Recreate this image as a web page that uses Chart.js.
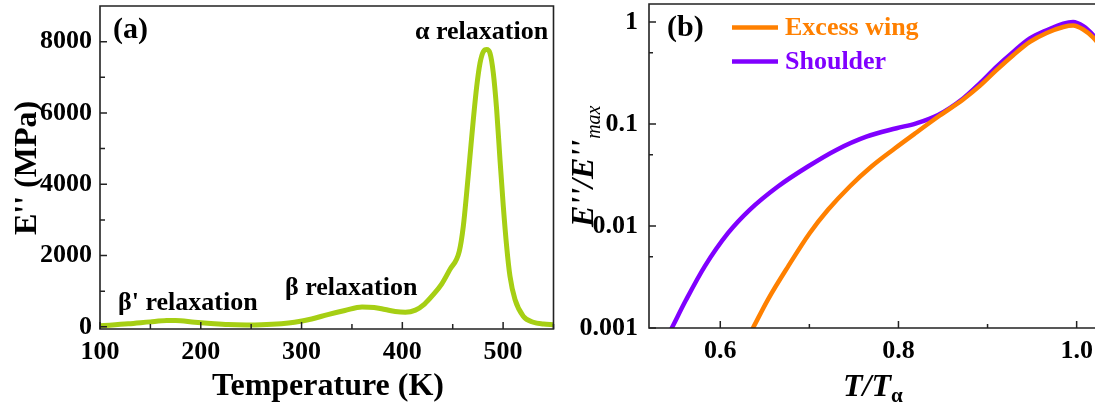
<!DOCTYPE html>
<html>
<head>
<meta charset="utf-8">
<title>E'' relaxation spectra</title>
<script src="https://cdn.jsdelivr.net/npm/chart.js@4.4.1/dist/chart.umd.min.js"></script>
<style>
  html, body { margin: 0; padding: 0; background: #fff; }
  #wrap { position: relative; width: 1095px; height: 405px; overflow: hidden; background: #fff; }
  canvas { position: absolute; top: 0; }
  #chartA { left: 0; }
  #chartB { left: 560px; }
</style>
</head>
<body>
<div id="wrap">
  <canvas id="chartA" width="560" height="405"></canvas>
  <canvas id="chartB" width="535" height="405"></canvas>
</div>
<script>
// ── (a) 損耗模量 E'' vs 溫度 ─────────────────────────────
const TEMP_A = [100, 128, 150, 166, 175, 194, 210, 227, 245, 260,
                280, 293, 310, 326, 343, 360, 372, 383, 393, 403,
                413, 422, 430, 439, 447, 456.5, 460.5, 463.8, 467.1, 470.4,
                473.8, 477.1, 480.4, 483.7, 487, 490.3, 493.6, 496.9, 500.2, 503.5,
                506.8, 511.8, 520, 530, 540, 550];
const LOSS_A = [30, 84, 140, 176, 180, 130, 95, 64, 55, 60,
                90, 130, 220, 345, 460, 560, 545, 485, 430, 410,
                470, 640, 880, 1200, 1600, 2120, 2820, 3750, 4780, 5800,
                6740, 7400, 7720, 7780, 7675, 7115, 6090, 4690, 3380, 2260,
                1420, 765, 300, 130, 80, 60];

const X_TICKS_A  = [100, 150, 200, 250, 300, 350, 400, 450, 500, 550];
const X_LABELS_A = ["100", "", "200", "", "300", "", "400", "", "500", ""];
const Y_TICKS_A  = [0, 1000, 2000, 3000, 4000, 5000, 6000, 7000, 8000];
const Y_LABELS_A = ["0", "", "2000", "", "4000", "", "6000", "", "8000"];

// ── (b) 歸一化 E''/E''max vs T/Tα ────────────────────────
const SERIES_B = ["Excess wing", "Shoulder"];

const WING_T = [0.628, 0.6367, 0.6535, 0.676, 0.7003, 0.7209, 0.7453, 0.7697, 0.7958, 0.818,
                0.8464, 0.8726, 0.8913, 0.91, 0.9288, 0.9475, 0.9663, 0.985, 0.996, 1.0074,
                1.0187, 1.026];
const WING_E = [0.00072, 0.001, 0.0019, 0.0040, 0.0085, 0.0144, 0.0244, 0.0383, 0.0575, 0.080,
                0.121, 0.174, 0.236, 0.337, 0.472, 0.637, 0.78, 0.893, 0.922, 0.843,
                0.703, 0.59];

const SHOULDER_T = [0.535, 0.5456, 0.5618, 0.5824, 0.6086, 0.633, 0.6647, 0.6984, 0.7303, 0.764,
                    0.7978, 0.82, 0.8445, 0.8726, 0.8913, 0.91, 0.9288, 0.9475, 0.9663, 0.985,
                    0.996, 1.0074, 1.0187, 1.026];
const SHOULDER_E = [0.00066, 0.001, 0.0019, 0.0040, 0.0085, 0.0144, 0.0244, 0.0383, 0.0557, 0.0751,
                    0.0908, 0.1016, 0.1227, 0.178, 0.25, 0.363, 0.509, 0.689, 0.83, 0.964,
                    1.0, 0.908, 0.74, 0.62];

const X_TICKS_B  = [0.6, 0.7, 0.8, 0.9, 1.0];
const X_LABELS_B = ["0.6", "", "0.8", "", "1.0"];
const Y_TICKS_B  = [0.001, 0.005, 0.01, 0.05, 0.1, 0.5, 1];
const Y_LABELS_B = ["0.001", "", "0.01", "", "0.1", "", "1"];

// ── 樣式 ─────────────────────────────────────────────────
const FONT     = '"Liberation Serif", "Times New Roman", serif';
const INK      = "#000";
const AXIS     = "#222";
const GREEN    = "#a6cf14";
const ORANGE   = "#ff8000";
const PURPLE   = "#8000ff";

const TICK_FONT = { family: FONT, size: 26, weight: "bold" };

// ── 共用工具 ─────────────────────────────────────────────

const toPoints = (xs, ys) => xs.map((x, i) => ({ x, y: ys[i] }));

const setTicks = values => scale => { scale.ticks = values.map(v => ({ value: v })); };

// 固定軸的寬/高，並取消標籤外溢造成的 padding
const fixBox = (size, horizontal) => scale => {
  if (horizontal) scale.height = size; else scale.width = size;
  scale.paddingLeft = scale.paddingRight = scale.paddingTop = scale.paddingBottom = 0;
};

function axisOpts({ type, min, max, ticks, labels, size, horizontal, pad }) {
  return {
    type, min, max,
    afterBuildTicks: setTicks(ticks),
    afterFit: fixBox(size, horizontal),
    grid:   { display: false, drawTicks: false },
    border: { display: false },
    ticks: {
      autoSkip: false, maxRotation: 0, minRotation: 0,
      padding: pad, color: INK, font: TICK_FONT,
      callback: (v, i) => labels[i],
    },
  };
}

function drawText(ctx, text, x, y, font, color, align = "left") {
  ctx.font = font;
  ctx.fillStyle = color;
  ctx.textAlign = align;
  ctx.textBaseline = "alphabetic";
  ctx.fillText(text, x, y);
}

// 內向刻度 + 外框
const frame = {
  id: "frame",
  afterDatasetsDraw(chart, args, opts) {
    const { ctx, chartArea: a, scales: { x, y } } = chart;
    ctx.save();
    ctx.strokeStyle = AXIS;
    ctx.lineWidth = 1.5;
    ctx.beginPath();
    x.ticks.forEach(t => {
      const px = x.getPixelForValue(t.value);
      ctx.moveTo(px, a.bottom);
      ctx.lineTo(px, a.bottom - (t.label ? opts.major : opts.minor));
    });
    y.ticks.forEach(t => {
      const py = y.getPixelForValue(t.value);
      ctx.moveTo(a.left, py);
      ctx.lineTo(a.left + (t.label ? opts.major : opts.minor), py);
    });
    ctx.stroke();

    ctx.lineWidth = 1.6;
    ctx.beginPath();
    if (opts.closed) {
      ctx.rect(a.left, a.top, a.right - a.left, a.bottom - a.top);
    } else {
      ctx.moveTo(a.right, a.top);
      ctx.lineTo(a.left, a.top);
      ctx.lineTo(a.left, a.bottom);
      ctx.lineTo(a.right, a.bottom);
    }
    ctx.stroke();
    ctx.restore();
  },
};

// ── (a) 文字 ─────────────────────────────────────────────
const labelsA = {
  id: "labelsA",
  afterDraw(chart) {
    const ctx = chart.ctx;
    ctx.save();
    drawText(ctx, "(a)", 113, 38, `bold 30px ${FONT}`, INK);
    drawText(ctx, "α relaxation", 415, 39, `bold 26px ${FONT}`, INK);
    drawText(ctx, "β relaxation", 285, 295, `bold 26px ${FONT}`, INK);
    drawText(ctx, "β' relaxation", 118, 310, `bold 26px ${FONT}`, INK);
    drawText(ctx, "Temperature (K)", 328, 395, `bold 32px ${FONT}`, INK, "center");
    ctx.translate(36, 168);
    ctx.rotate(-Math.PI / 2);
    drawText(ctx, "E'' (MPa)", 0, 0, `bold 32px ${FONT}`, INK, "center");
    ctx.restore();
  },
};

// ── (b) 文字與圖例 ───────────────────────────────────────
const labelsB = {
  id: "labelsB",
  afterDraw(chart) {
    const ctx = chart.ctx;
    const off = 560;
    ctx.save();
    drawText(ctx, "(b)", 667 - off, 36, `bold 30px ${FONT}`, INK);

    // 圖例
    chart.data.datasets.forEach((ds, i) => {
      const ly = 27.5 + i * 34;
      ctx.strokeStyle = ds.borderColor;
      ctx.lineWidth = 4.5;
      ctx.beginPath();
      ctx.moveTo(732 - off, ly);
      ctx.lineTo(778 - off, ly);
      ctx.stroke();
      drawText(ctx, ds.label, 785 - off, ly + 7, `bold 26px ${FONT}`, ds.borderColor);
    });

    // x 軸標題 T/Tα
    ctx.font = `italic bold 32px ${FONT}`;
    const w = ctx.measureText("T/T").width;
    drawText(ctx, "T/T", 843 - off, 396, `italic bold 32px ${FONT}`, INK);
    drawText(ctx, "α", 843 - off + w, 402, `bold 21px ${FONT}`, INK);

    // y 軸標題 E''/E''max
    ctx.translate(593 - off, 227);
    ctx.rotate(-Math.PI / 2);
    ctx.font = `italic bold 32px ${FONT}`;
    const wy = ctx.measureText("E''/E''").width;
    drawText(ctx, "E''/E''", 0, 0, `italic bold 32px ${FONT}`, INK);
    drawText(ctx, "max", wy + 1, 7, `italic 20px ${FONT}`, INK);
    ctx.restore();
  },
};

const white = {
  id: "white",
  beforeDraw(chart) {
    const ctx = chart.ctx;
    ctx.save();
    ctx.fillStyle = "#fff";
    ctx.fillRect(0, 0, chart.width, chart.height);
    ctx.restore();
  },
};

// ── 建立圖表 ─────────────────────────────────────────────

new Chart(document.getElementById("chartA").getContext("2d"), {
  type: "line",
  data: {
    datasets: [{
      label: "E''",
      data: toPoints(TEMP_A, LOSS_A),
      borderColor: GREEN,
      borderWidth: 5,
      pointRadius: 0,
      fill: false,
      cubicInterpolationMode: "monotone",
      clip: 0,
    }],
  },
  options: {
    responsive: false,
    animation: false,
    devicePixelRatio: 1,
    layout: { padding: { top: 6, right: 6.5, left: 0, bottom: 0 } },
    scales: {
      x: axisOpts({ type: "linear", min: 100, max: 550, ticks: X_TICKS_A, labels: X_LABELS_A,
                    size: 76, horizontal: true, pad: 8 }),
      y: axisOpts({ type: "linear", min: -60, max: 9000, ticks: Y_TICKS_A, labels: Y_LABELS_A,
                    size: 100, horizontal: false, pad: 8 }),
    },
    plugins: {
      legend: { display: false },
      tooltip: { enabled: false },
      frame: { major: 7, minor: 5, closed: true },
    },
  },
  plugins: [white, frame, labelsA],
});

new Chart(document.getElementById("chartB").getContext("2d"), {
  type: "line",
  data: {
    datasets: [
      {
        label: SERIES_B[0],
        data: toPoints(WING_T, WING_E),
        borderColor: ORANGE,
        borderWidth: 4.5,
        pointRadius: 0,
        fill: false,
        cubicInterpolationMode: "monotone",
        clip: 0,
      },
      {
        label: SERIES_B[1],
        data: toPoints(SHOULDER_T, SHOULDER_E),
        borderColor: PURPLE,
        borderWidth: 4.5,
        pointRadius: 0,
        fill: false,
        cubicInterpolationMode: "monotone",
        clip: 0,
      },
    ],
  },
  options: {
    responsive: false,
    animation: false,
    devicePixelRatio: 1,
    layout: { padding: { top: 4, right: 0, left: 0, bottom: 0 } },
    scales: {
      x: axisOpts({ type: "linear", min: 0.52, max: 1.0206, ticks: X_TICKS_B, labels: X_LABELS_B,
                    size: 77, horizontal: true, pad: 8 }),
      y: axisOpts({ type: "logarithmic", min: 0.001, max: 1.5, ticks: Y_TICKS_B, labels: Y_LABELS_B,
                    size: 89, horizontal: false, pad: 11 }),
    },
    plugins: {
      legend: { display: false },
      tooltip: { enabled: false },
      frame: { major: 7, minor: 4, closed: false },
    },
  },
  plugins: [white, frame, labelsB],
});
</script>
</body>
</html>
